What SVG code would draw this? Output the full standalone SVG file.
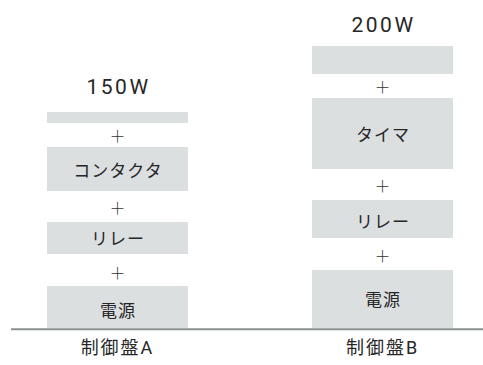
<svg xmlns="http://www.w3.org/2000/svg" width="483" height="365" viewBox="0 0 483 365">
<style>
.box{fill:#dcdfe0}
.t{font-family:Roboto,"Noto Sans CJK JP",sans-serif;fill:#262626;text-anchor:middle}
.lbl{font-size:17px;letter-spacing:1px}
.plus{font-family:"Noto Sans CJK JP",sans-serif;font-size:16px;font-weight:300;fill:#333;text-anchor:middle}
.watt{font-size:21px;letter-spacing:2.5px}
.name{font-size:18px;letter-spacing:2px}
</style>
<rect width="483" height="365" fill="#fff"/>
<g id="panelA">
  <text class="t watt" x="118.5" y="94">150W</text>
  <g id="a-top"><rect class="box" x="47" y="112" width="141" height="11"/></g>
  <text class="plus" x="117.5" y="141.5">＋</text>
  <g id="a-contactor"><rect class="box" x="47" y="147" width="141" height="44"/><text class="t lbl" x="118" y="176.5">コンタクタ</text></g>
  <text class="plus" x="117.5" y="214">＋</text>
  <g id="a-relay"><rect class="box" x="47" y="222" width="141" height="32"/><text class="t lbl" x="118" y="244.5">リレー</text></g>
  <text class="plus" x="117.5" y="279">＋</text>
  <g id="a-power"><rect class="box" x="47" y="286" width="141" height="42"/><text class="t lbl" x="118" y="316.5">電源</text></g>
  <text class="t name" x="117.5" y="353.5">制御盤A</text>
</g>
<g id="panelB">
  <text class="t watt" x="383.5" y="32">200W</text>
  <g id="b-top"><rect class="box" x="312" y="46" width="141" height="28"/></g>
  <text class="plus" x="382.5" y="92.5">＋</text>
  <g id="b-timer"><rect class="box" x="312" y="98" width="141" height="71"/><text class="t lbl" x="383" y="141">タイマ</text></g>
  <text class="plus" x="382.5" y="192">＋</text>
  <g id="b-relay"><rect class="box" x="312" y="200" width="141" height="38"/><text class="t lbl" x="383" y="227.5">リレー</text></g>
  <text class="plus" x="382.5" y="261.5">＋</text>
  <g id="b-power"><rect class="box" x="312" y="270" width="141" height="58"/><text class="t lbl" x="383" y="306">電源</text></g>
  <text class="t name" x="382.5" y="353.5">制御盤B</text>
</g>
<g id="connectors">
  <line x1="11" y1="329.3" x2="483" y2="329.3" stroke="#8b9091" stroke-width="2"/>
</g>
</svg>
